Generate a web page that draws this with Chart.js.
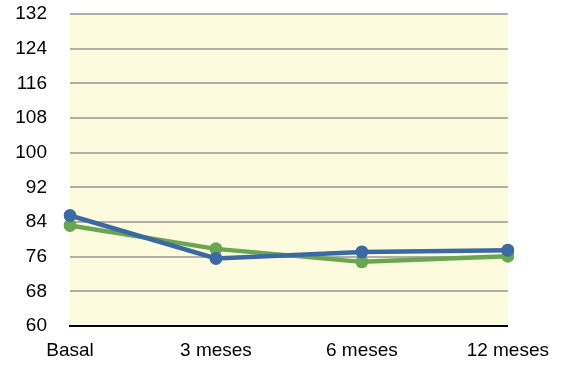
<!DOCTYPE html>
<html>
<head>
<meta charset="utf-8">
<script src="https://cdn.jsdelivr.net/npm/chart.js@4/dist/chart.umd.min.js"></script>
<style>
  html, body { margin: 0; padding: 0; background: #ffffff; }
  #wrap { width: 562px; height: 365px; }
</style>
</head>
<body>
<div id="wrap"><canvas id="c" width="562" height="365"></canvas></div>
<script>
// Follow-up timepoints
const categories = ['Basal', '3 meses', '6 meses', '12 meses'];
// Two measured series
const seriesBlue = [85.5, 75.6, 77.1, 77.5];
const seriesGreen = [83.2, 77.8, 74.8, 76.1];
// Value axis range
const yMin = 60;
const yMax = 132;
const yStep = 8;

// Pale yellow fill behind the plotting area
const plotBackground = {
  id: 'plotBackground',
  beforeDraw(chart) {
    const { ctx, chartArea: a } = chart;
    ctx.save();
    ctx.fillStyle = '#fdfbdd';
    ctx.fillRect(a.left, a.top, a.right - a.left, a.bottom - a.top);
    ctx.restore();
  }
};

const font = { family: "'Liberation Sans', Arial, Helvetica, sans-serif", size: 19 };

new Chart(document.getElementById('c'), {
  type: 'line',
  data: {
    labels: categories,
    datasets: [
      {
        data: seriesBlue,
        borderColor: '#3a69a3',
        backgroundColor: '#3a69a3',
        borderWidth: 4.5,
        pointRadius: 6.5,
        pointBorderWidth: 0,
        tension: 0
      },
      {
        data: seriesGreen,
        borderColor: '#6aa652',
        backgroundColor: '#6aa652',
        borderWidth: 4.5,
        pointRadius: 6.5,
        pointBorderWidth: 0,
        tension: 0
      }
    ]
  },
  options: {
    responsive: false,
    animation: false,
    layout: { padding: { top: 14, right: 53, left: 0, bottom: 0 } },
    plugins: { legend: { display: false }, tooltip: { enabled: false } },
    scales: {
      x: {
        offset: false,
        grid: { display: false, drawTicks: false },
        border: { display: true, color: '#000000', width: 2 },
        ticks: { color: '#000000', font: font, padding: 13, maxRotation: 0, autoSkip: false },
        afterFit(scale) { scale.height = 39; }
      },
      y: {
        min: yMin,
        max: yMax,
        grid: { color: '#b0aea6', lineWidth: 2, drawTicks: true, tickLength: 23, tickColor: 'rgba(0,0,0,0)' },
        border: { display: false },
        ticks: { stepSize: yStep, color: '#000000', font: font, padding: 0 },
        afterFit(scale) { scale.width = 70; }
      }
    }
  },
  plugins: [plotBackground]
});
</script>
</body>
</html>
